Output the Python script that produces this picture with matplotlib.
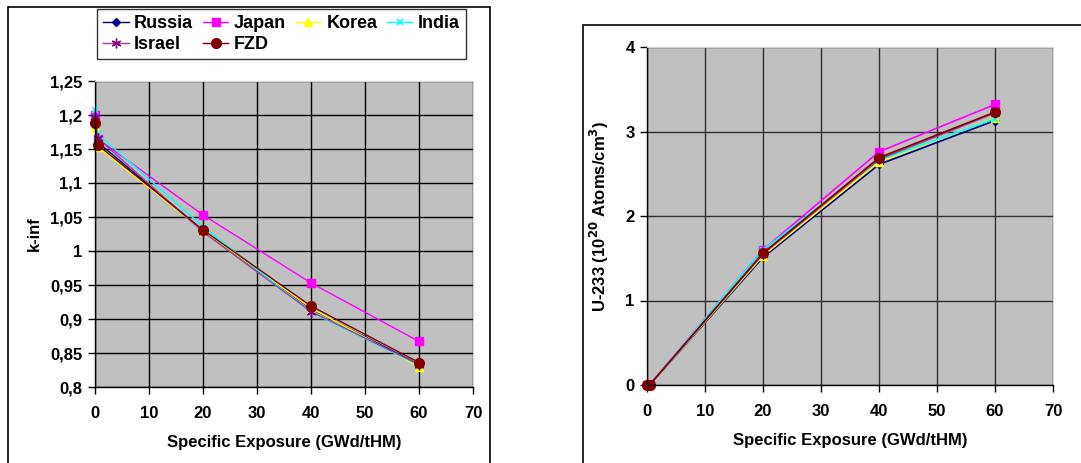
import matplotlib
matplotlib.use("Agg")
import matplotlib.pyplot as plt
from matplotlib.patches import Rectangle
from matplotlib.ticker import FuncFormatter, MultipleLocator

plt.rcParams['font.family'] = ['Liberation Sans', 'DejaVu Sans']
plt.rcParams['font.weight'] = 'bold'

# Burnup steps (GWd/tHM)
exposure = [0, 0.5, 20, 40, 60]

# k-infinity by participant
kinf_russia = [1.195, 1.160, 1.030, 0.915, 0.833]
kinf_japan  = [1.200, 1.165, 1.053, 0.953, 0.867]
kinf_korea  = [1.183, 1.153, 1.030, 0.916, 0.830]
kinf_india  = [1.207, 1.172, 1.036, 0.910, 0.832]
kinf_israel = [1.197, 1.166, 1.028, 0.911, 0.833]
kinf_fzd    = [1.188, 1.156, 1.031, 0.919, 0.836]

# U-233 concentration (1e20 atoms/cm3) by participant
u233_russia = [0.0, 0.005, 1.51, 2.61, 3.13]
u233_japan  = [0.0, 0.005, 1.60, 2.76, 3.32]
u233_korea  = [0.0, 0.005, 1.53, 2.64, 3.16]
u233_india  = [0.0, 0.005, 1.60, 2.66, 3.15]
u233_israel = [0.0, 0.005, 1.55, 2.67, 3.22]
u233_fzd    = [0.0, 0.005, 1.56, 2.69, 3.23]

names = ["Russia", "Japan", "Korea", "India", "Israel", "FZD"]
kinf = [kinf_russia, kinf_japan, kinf_korea, kinf_india, kinf_israel, kinf_fzd]
u233 = [u233_russia, u233_japan, u233_korea, u233_india, u233_israel, u233_fzd]

styles = [
    dict(color="#000080", marker="D", ms=4, mfc="#000080", mec="#000080"),
    dict(color="#FF00FF", marker="s", ms=6, mfc="#FF00FF", mec="#FF00FF"),
    dict(color="#FFFF00", marker="^", ms=6, mfc="#FFFF00", mec="#FFFF00"),
    dict(color="#00FFFF", marker="x", ms=5, mfc="#00FFFF", mec="#00FFFF", mew=1.2),
    dict(color="#A040A0", marker=(6, 2, 0), ms=7, mfc="#800080", mec="#800080", mew=1.0),
    dict(color="#800000", marker="o", ms=7, mfc="#800000", mec="#800000"),
]

FS = 12

fig = plt.figure(figsize=(10.81, 4.63), dpi=100)
W, H = 1081, 463

def frac_rect(x0, y0, x1, y1):
    return [x0 / W, 1 - y1 / H, (x1 - x0) / W, (y1 - y0) / H]

# Chart frames
fig.patches.append(Rectangle((8 / W, -0.01), (490 - 8) / W, 1 - 7 / H + 0.01,
                             transform=fig.transFigure, fill=False,
                             edgecolor="black", lw=1.2))
fig.patches.append(Rectangle((583 / W, -0.01), 0.5, 1 - 25 / H + 0.01,
                             transform=fig.transFigure, fill=False,
                             edgecolor="black", lw=1.2))

def comma_fmt(v, pos):
    s = ("%.2f" % v).rstrip("0").rstrip(".")
    return s.replace(".", ",")

def style_axes(ax, gridcolor):
    ax.set_facecolor("#C0C0C0")
    ax.set_xlim(0, 70)
    ax.xaxis.set_major_locator(MultipleLocator(10))
    ax.grid(True, color=gridcolor, lw=1.0)
    ax.set_axisbelow(True)
    for side in ("top", "right"):
        ax.spines[side].set_color("#D8D8D8")
        ax.spines[side].set_linewidth(0.8)
    for side in ("left", "bottom"):
        ax.spines[side].set_color("black")
        ax.spines[side].set_linewidth(1.0)
    ax.tick_params(direction="out", length=5, width=1.0, labelsize=FS, pad=9)
    for lab in ax.get_xticklabels() + ax.get_yticklabels():
        lab.set_fontweight("bold")
    ax.set_xlabel("Specific Exposure (GWd/tHM)", fontsize=FS, fontweight="bold", labelpad=10)

# Left: k-inf
ax1 = fig.add_axes(frac_rect(95, 81, 473, 387))
lines = []
for n, y, st in zip(names, kinf, styles):
    ln, = ax1.plot(exposure, y, lw=1.0, label=n, clip_on=False, **st)
    lines.append(ln)
ax1.set_ylim(0.8, 1.25)
ax1.yaxis.set_major_locator(MultipleLocator(0.05))
ax1.yaxis.set_major_formatter(FuncFormatter(comma_fmt))
style_axes(ax1, "black")
ax1.tick_params(axis="y", pad=4)
ax1.set_ylabel("k-inf", fontsize=FS, fontweight="bold", labelpad=6)

# Legend laid out row by row: Russia Japan Korea India / Israel FZD
order = [0, 4, 1, 5, 2, 3]
leg = fig.legend(handles=[lines[i] for i in order], loc="upper left", ncol=4,
                 bbox_to_anchor=(97 / W, 1 - 9 / H), bbox_transform=fig.transFigure,
                 frameon=True, fancybox=False, edgecolor="black",
                 prop=dict(size=13, weight="bold"), handlelength=1.4,
                 handletextpad=0.3, columnspacing=0.55, labelspacing=0.2,
                 borderpad=0.35, borderaxespad=0)
leg.get_frame().set_linewidth(1.0)

# Right: U-233
ax2 = fig.add_axes(frac_rect(647, 47, 1053, 385))
for n, y, st in zip(names, u233, styles):
    ax2.plot(exposure, y, lw=1.2, label=n, clip_on=False, **st)
ax2.set_ylim(0, 4)
ax2.yaxis.set_major_locator(MultipleLocator(1))
style_axes(ax2, "#303030")
ax2.tick_params(axis="y", pad=4)
ax2.set_ylabel(r"U-233 (10$^{\mathbf{20}}$ Atoms/cm$^{\mathbf{3}}$)",
               fontsize=FS, fontweight="bold", labelpad=10)

fig.savefig("out.png", dpi=100, facecolor="white")
